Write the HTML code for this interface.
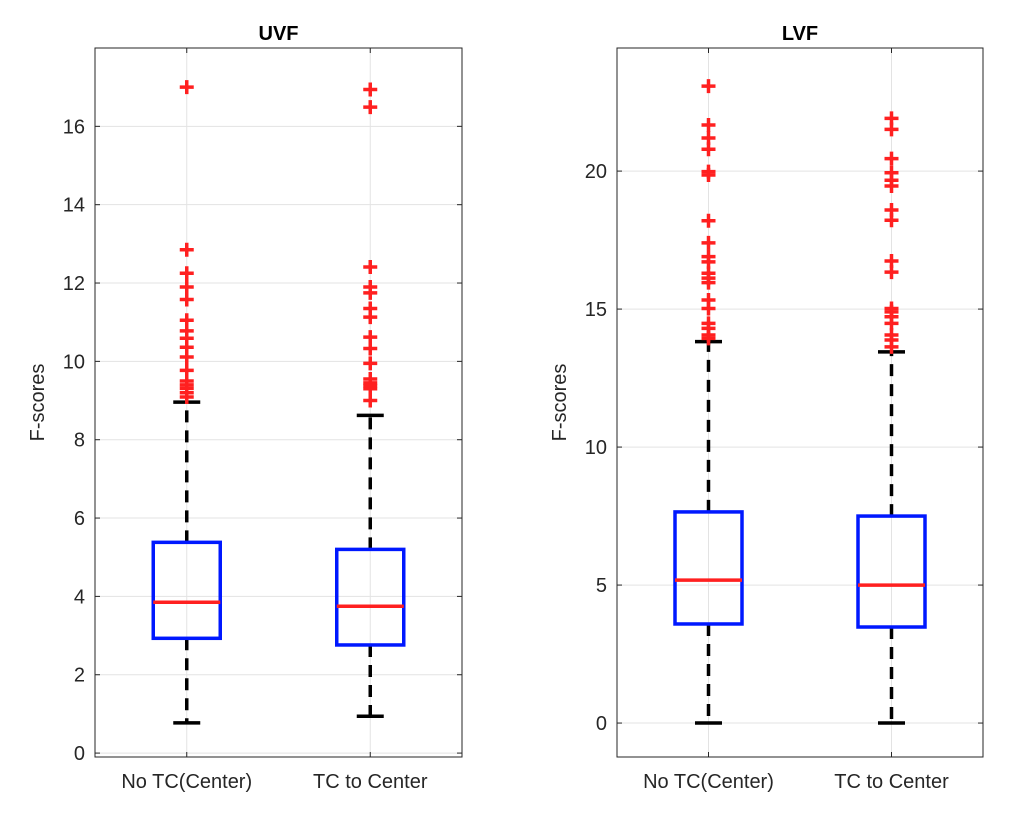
<!DOCTYPE html>
<html><head><meta charset="utf-8"><style>
body{margin:0;background:#fff;}
svg text{font-family:"Liberation Sans",Arial,sans-serif;}
</style></head><body>
<svg id="chart" width="1012" height="814" xmlns="http://www.w3.org/2000/svg"></svg>
<script>
const categories = ["No TC(Center)", "TC to Center"];
const uvfStats = [[0.77,2.93,3.85,5.38,8.96],[0.94,2.76,3.75,5.2,8.62]];
const uvfOut1 = [17.0,12.85,12.25,11.9,11.58,11.05,10.78,10.59,10.36,10.11,9.77,9.5,9.4,9.31,9.2,9.09];
const uvfOut2 = [16.94,16.49,12.41,11.9,11.75,11.35,11.13,10.62,10.33,9.95,9.55,9.45,9.38,9.3,9.0];
const lvfStats = [[0,3.59,5.18,7.65,13.82],[0,3.48,5.0,7.5,13.45]];
const lvfOut1 = [23.08,21.67,21.2,20.79,19.98,19.86,18.2,17.4,16.9,16.71,16.3,16.12,15.96,15.33,15.02,14.48,14.3,14.06,13.94];
const lvfOut2 = [21.91,21.51,20.45,19.94,19.67,19.46,18.59,18.22,16.74,16.34,15.02,14.9,14.72,14.48,14.06,13.88,13.63];
const uvfTicks = [0,2,4,6,8,10,12,14,16];
const lvfTicks = [0,5,10,15,20];

const NS="http://www.w3.org/2000/svg";
const svg=document.getElementById('chart');
function mk(tag,attrs,parent){const e=document.createElementNS(NS,tag);for(const k in attrs)e.setAttribute(k,attrs[k]);(parent||svg).appendChild(e);return e;}

function panel(name,x0,x1,y0,y1,ymin,ymax,stats,outs,ticks,title){
  const g=mk('g',{});
  
  
  const X=v=>x0+(v-0.5)/2*(x1-x0);
  const Y=v=>y1-(v-ymin)/(ymax-ymin)*(y1-y0);
  ticks.forEach(t=>{const l=mk('line',{x1:x0,x2:x1,y1:Y(t),y2:Y(t),stroke:'#e3e3e3','stroke-width':1},g);
    });
  categories.forEach((c,i)=>{const l=mk('line',{x1:X(i+1),x2:X(i+1),y1:y0,y2:y1,stroke:'#e3e3e3','stroke-width':1},g);
    });
  const r=mk('rect',{x:x0,y:y0,width:x1-x0,height:y1-y0,fill:'none',stroke:'#262626','stroke-width':1},g);
  
  ticks.forEach(t=>{
    mk('line',{x1:x0,x2:x0+5,y1:Y(t),y2:Y(t),stroke:'#262626'},g);
    mk('line',{x1:x1,x2:x1-5,y1:Y(t),y2:Y(t),stroke:'#262626'},g);
    const tx=mk('text',{x:x0-10,y:Y(t)+7,'text-anchor':'end','font-size':20,fill:'#262626'},g);
    tx.textContent=t;
  });
  categories.forEach((c,i)=>{
    mk('line',{x1:X(i+1),x2:X(i+1),y1:y1,y2:y1-5,stroke:'#262626'},g);
    mk('line',{x1:X(i+1),x2:X(i+1),y1:y0,y2:y0+5,stroke:'#262626'},g);
    const tx=mk('text',{x:X(i+1),y:y1+31,'text-anchor':'middle','font-size':20,fill:'#262626'},g);
    tx.textContent=c;
  });
  const tt=mk('text',{x:(x0+x1)/2,y:y0-8,'text-anchor':'middle','font-size':20,'font-weight':'bold',fill:'#000'},g);
  tt.textContent=title;
  const yl=mk('text',{x:0,y:0,'text-anchor':'middle','font-size':20,fill:'#262626',transform:`translate(${x0-51},${(y0+y1)/2}) rotate(-90)`},g);
  yl.textContent='F-scores';
  stats.forEach((s,i)=>{
    const cx=X(i+1),hw=33.5,cw=13.5;
    const w1=mk('line',{x1:cx,x2:cx,y1:Y(s[3]),y2:Y(s[4]),stroke:'#000','stroke-width':3.5,'stroke-dasharray':'12,8'},g);
    
    const w2=mk('line',{x1:cx,x2:cx,y1:Y(s[1]),y2:Y(s[0]),stroke:'#000','stroke-width':3.5,'stroke-dasharray':'12,8'},g);
    
    [s[0],s[4]].forEach(v=>{const c=mk('line',{x1:cx-cw,x2:cx+cw,y1:Y(v),y2:Y(v),stroke:'#000','stroke-width':3.5},g);
      });
    const b=mk('rect',{x:cx-hw,y:Y(s[3]),width:2*hw,height:Y(s[1])-Y(s[3]),fill:'none',stroke:'#0018ff','stroke-width':3.5},g);
    
    const m=mk('line',{x1:cx-hw,x2:cx+hw,y1:Y(s[2]),y2:Y(s[2]),stroke:'#ff2020','stroke-width':3.5},g);
    
    outs[i].forEach(v=>{
      const p=mk('path',{d:`M${cx-7},${Y(v)}h14M${cx},${Y(v)-7}v14`,stroke:'#ff2020','stroke-width':3.5,fill:'none'},g);
      
    });
  });
}
panel('uvf',95,462,48,757,-0.1,18,uvfStats,[uvfOut1,uvfOut2],uvfTicks,'UVF');
panel('lvf',617,983,48,757,-1.23,24.46,lvfStats,[lvfOut1,lvfOut2],lvfTicks,'LVF');
</script>
</body></html>
